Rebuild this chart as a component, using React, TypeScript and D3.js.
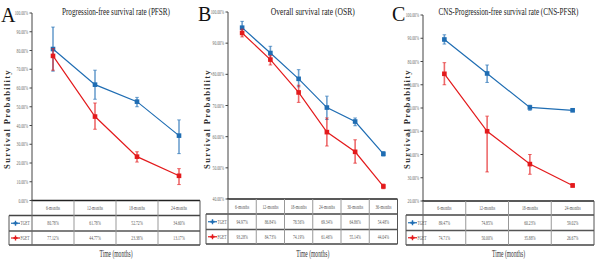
import React from "react";
import * as d3 from "d3";

// ---------- DATA ----------
const monthsA = ["6-months", "12-months", "18-months", "24-months"];
const tgetA = [80.78, 61.78, 52.72, 34.6];
const fgetA = [77.12, 44.77, 23.38, 13.17];
const tgetErrA: [number, number][] = [[69, 92.5], [54, 69.5], [50, 55], [25, 43]];
const fgetErrA: [number, number][] = [[69.5, 81], [38, 52], [20.5, 26], [8.5, 17]];
const ticksA = [0, 10, 20, 30, 40, 50, 60, 70, 80, 90, 100];

const monthsB = ["6-months", "12-months", "18-months", "24-months", "30-months", "36-months"];
const tgetB = [94.97, 86.84, 78.56, 69.34, 64.86, 54.48];
const fgetB = [93.28, 84.73, 74.19, 61.46, 55.14, 44.04];
const tgetErrB: [number, number][] = [[93, 97], [85, 89], [76, 81.5], [65.5, 73], [63.5, 66], [53.8, 55.2]];
const fgetErrB: [number, number][] = [[92, 94.5], [83, 86], [71, 76.5], [57, 66], [51.5, 59], [43.3, 44.8]];
const ticksB = [40, 50, 60, 70, 80, 90, 100];

const monthsC = ["6-months", "12-months", "18-months", "24-months"];
const tgetC = [89.47, 74.85, 60.23, 59.02];
const fgetC = [74.71, 50.0, 35.88, 26.67];
const tgetErrC: [number, number][] = [[87.5, 91.5], [71, 78.5], [59, 61.2], [58.4, 59.6]];
const fgetErrC: [number, number][] = [[70, 79.5], [32.5, 56.5], [31.5, 40], [26, 27.5]];
const ticksC = [20, 30, 40, 50, 60, 70, 80, 90, 100];

const seriesNames = ["TGET", "FGET"];
const titles = [
  "Progression-free survival rate (PFSR)",
  "Overall survival rate (OSR)",
  "CNS-Progression-free survival rate (CNS-PFSR)",
];
const letters = ["A", "B", "C"];
const xLabel = "Time (months)";
const yLabel = "Survival Probability";

// ---------- STYLE ----------
const BLUE = "#1f6db3";
const RED = "#e31a1c";
const SERIF = "'Liberation Serif', 'Times New Roman', serif";

function CText({ x, y, sx = 0.6, size, fill = "#333", anchor = "middle", weight = "normal", children }: any) {
  return (
    <text
      transform={`translate(${x},${y}) scale(${sx},1)`}
      fontSize={size}
      fill={fill}
      textAnchor={anchor}
      fontWeight={weight}
      fontFamily={SERIF}
    >
      {children}
    </text>
  );
}

interface PanelProps {
  ox: number;
  letterX: number;
  letterY: number;
  axisX: number;
  right: number;
  yTop: number;
  yBot: number;
  domain: [number, number];
  ticks: number[];
  months: string[];
  tget: number[];
  fget: number[];
  tErr: [number, number][];
  fErr: [number, number][];
  title: string;
  titleW: number;
  letter: string;
  rows: [number, number, number, number];
}

function Panel(p: PanelProps) {
  const y = d3.scaleLinear().domain(p.domain).range([p.yBot, p.yTop]);
  const band = d3.scaleBand().domain(p.months).range([p.axisX, p.right]).padding(0);
  const cx = (m: string) => (band(m) as number) + band.bandwidth() / 2;
  const line = d3
    .line<number>()
    .x((_, i) => cx(p.months[i]))
    .y((v) => y(v));
  const [r0, r1, r2, r3] = p.rows;
  const legL = p.ox + 6 + (p.letter === "A" ? 3 : 0);
  const series = [
    { vals: p.tget, err: p.tErr, color: BLUE, name: seriesNames[0] },
    { vals: p.fget, err: p.fErr, color: RED, name: seriesNames[1] },
  ];
  const midX = (p.axisX + p.right) / 2;
  return (
    <g>
      <text
        x={midX}
        y={15}
        fontSize={11}
        fontFamily={SERIF}
        fill="#222"
        textAnchor="middle"
        textLength={p.titleW}
        lengthAdjust="spacingAndGlyphs"
      >
        {p.title}
      </text>
      <text
        transform={`translate(${p.ox + 10},${119}) rotate(-90)`}
        fontSize={8.5}
        fontWeight="bold"
        fontFamily={SERIF}
        fill="#333"
        textAnchor="middle"
        letterSpacing={1.3}
      >
        {yLabel}
      </text>
      {/* axis */}
      <line x1={p.axisX} x2={p.axisX} y1={p.yTop} y2={p.yBot} stroke="#444" strokeWidth={1} />
      {p.ticks.map((t) => (
        <g key={t}>
          <line x1={p.axisX - 2.5} x2={p.axisX} y1={y(t)} y2={y(t)} stroke="#444" strokeWidth={1} />
          <CText x={p.axisX - 4} y={y(t) + 2} size={6} anchor="end" fill="#666" sx={0.62}>
            {t.toFixed(2) + "%"}
          </CText>
        </g>
      ))}
      <text x={p.letterX} y={p.letterY} fontSize={20} fontFamily={SERIF} fill="#111">
        {p.letter}
      </text>
      {/* series */}
      {series.map((s) => (
        <g key={s.name}>
          {s.err.map((e, i) => {
            const x = cx(p.months[i]);
            return (
              <g key={i} stroke={s.color} strokeOpacity={0.65}>
                <line x1={x} x2={x} y1={y(e[0])} y2={y(e[1])} strokeWidth={1.6} />
                <line x1={x - 1.8} x2={x + 1.8} y1={y(e[0])} y2={y(e[0])} strokeWidth={1} />
                <line x1={x - 1.8} x2={x + 1.8} y1={y(e[1])} y2={y(e[1])} strokeWidth={1} />
              </g>
            );
          })}
          <path d={line(s.vals) as string} fill="none" stroke={s.color} strokeWidth={1.2} />
          {s.vals.map((v, i) => (
            <rect key={i} x={cx(p.months[i]) - 2.3} y={y(v) - 2.3} width={4.6} height={4.6} fill={s.color} />
          ))}
        </g>
      ))}
      {/* table */}
      <line x1={p.axisX - 0.5} x2={p.right} y1={r0} y2={r0} stroke="#222" strokeWidth={1.3} />
      <line x1={legL} x2={p.right} y1={r1} y2={r1} stroke="#444" strokeWidth={1.5} />
      <line x1={legL} x2={p.right} y1={r2} y2={r2} stroke="#555" strokeWidth={1.5} />
      <line x1={legL} x2={p.right} y1={r3} y2={r3} stroke="#444" strokeWidth={1.3} />
      <line x1={legL} x2={legL} y1={r1} y2={r3} stroke="#555" strokeWidth={1} />
      <line x1={p.axisX} x2={p.axisX} y1={r0} y2={r3} stroke="#666" strokeWidth={1} />
      {p.months.map((m, i) => {
        const xr = (band(m) as number) + band.bandwidth();
        return (
          <line key={m} x1={xr} x2={xr} y1={r0} y2={r3} stroke={i === p.months.length - 1 ? "#555" : "#999"} strokeWidth={1} />
        );
      })}
      {p.months.map((m) => (
        <CText key={m} x={cx(m)} y={(r0 + r1) / 2 + 2} size={6} fill="#555" sx={0.62}>
          {m}
        </CText>
      ))}
      {series.map((s, si) => {
        const rt = si === 0 ? r1 : r2;
        const rb = si === 0 ? r2 : r3;
        const ym = (rt + rb) / 2;
        return (
          <g key={s.name}>
            <line x1={legL + 2} x2={legL + 11} y1={ym} y2={ym} stroke={s.color} strokeWidth={1.2} />
            <line x1={legL + 6.5} x2={legL + 6.5} y1={ym - 2.5} y2={ym + 2.5} stroke={s.color} strokeWidth={1.4} />
            <line x1={legL + 4.5} x2={legL + 8.5} y1={ym} y2={ym} stroke={s.color} strokeWidth={2} />
            <CText x={legL + 11.5} y={ym + 2} size={6} anchor="start" fill="#555" sx={0.6}>
              {s.name}
            </CText>
            {s.vals.map((v, i) => (
              <CText key={i} x={cx(p.months[i])} y={ym + 2} size={6} fill="#555" sx={0.62}>
                {v.toFixed(2) + "%"}
              </CText>
            ))}
          </g>
        );
      })}
      <text
        x={midX}
        y={257}
        fontSize={10.5}
        fontFamily={SERIF}
        fill="#333"
        textAnchor="middle"
        textLength={33}
        lengthAdjust="spacingAndGlyphs"
      >
        {xLabel}
      </text>
    </g>
  );
}

export default function App() {
  return (
    <svg width={600} height={262} style={{ position: "absolute", left: 0, top: 0, background: "#fff" }}>
      <rect width={600} height={262} fill="#fff" />
      <Panel
        ox={0}
        letterX={1}
        letterY={22}
        axisX={32}
        right={200}
        yTop={13}
        yBot={200.5}
        domain={[0, 100]}
        ticks={ticksA}
        months={monthsA}
        tget={tgetA}
        fget={fgetA}
        tErr={tgetErrA}
        fErr={fgetErrA}
        title={titles[0]}
        titleW={108}
        letter={letters[0]}
        rows={[200.5, 215.5, 231, 245]}
      />
      <Panel
        ox={200}
        letterX={198}
        letterY={21}
        axisX={228}
        right={397.5}
        yTop={12}
        yBot={199}
        domain={[40, 100]}
        ticks={ticksB}
        months={monthsB}
        tget={tgetB}
        fget={fgetB}
        tErr={tgetErrB}
        fErr={fgetErrB}
        title={titles[1]}
        titleW={84}
        letter={letters[1]}
        rows={[199, 214, 229.5, 244]}
      />
      <Panel
        ox={400}
        letterX={392}
        letterY={21}
        axisX={423}
        right={594}
        yTop={15}
        yBot={201}
        domain={[20, 100]}
        ticks={ticksC}
        months={monthsC}
        tget={tgetC}
        fget={fgetC}
        tErr={tgetErrC}
        fErr={fgetErrC}
        title={titles[2]}
        titleW={140}
        letter={letters[2]}
        rows={[201, 215, 230.5, 245]}
      />
    </svg>
  );
}
